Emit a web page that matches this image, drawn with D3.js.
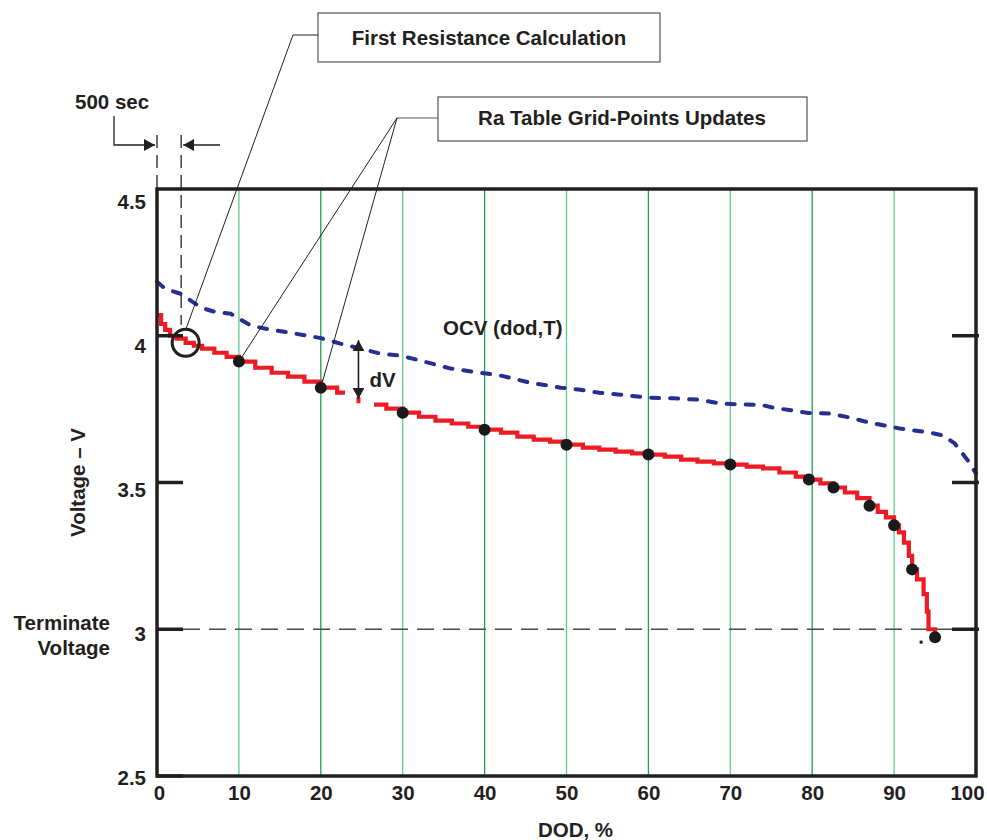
<!DOCTYPE html>
<html>
<head>
<meta charset="utf-8">
<script src="https://cdn.jsdelivr.net/npm/d3@7"></script>
<style>
  body { margin: 0; background: #fff; }
  text { font-family: "Liberation Sans", Arial, sans-serif; font-weight: bold; fill: #231f20; }
</style>
</head>
<body>
<div id="chart"></div>
<script>
// chart values
var xTicks = [0, 10, 20, 30, 40, 50, 60, 70, 80, 90, 100];
var yTicks = [2.5, 3, 3.5, 4, 4.5];
var gridDod = [10, 20, 30, 40, 50, 60, 70, 80, 90];
var borderTicks = [2.5, 3, 3.5, 4];
var rightTicks = [3, 3.5, 4];

// measured battery voltage (red staircase), null = gap
var redDod = [0, 0.5, 1, 1.6, 2.4, 3.5, 4.5, 5.5, 7, 8.5, 10, 12, 14, 16, 18, 20, 22, 22.7, 24,
  26.5, 28, 30, 32, 34, 36, 38, 40, 42, 44, 46, 48, 50, 52, 54, 56, 58, 60, 62, 64, 66, 68, 70,
  72, 74, 76, 78, 79.6, 81, 82.6, 84, 85.5, 87, 88, 89, 90, 90.6, 91.2, 91.8, 92.2, 92.8, 93.6,
  94, 94.2, 95];
var redV = [4.07, 4.04, 4.02, 4.0, 3.99, 3.976, 3.966, 3.956, 3.942, 3.928, 3.912, 3.891, 3.874,
  3.861, 3.844, 3.823, 3.806, 3.799, null,
  3.765, 3.752, 3.738, 3.724, 3.711, 3.701, 3.69, 3.68, 3.67, 3.656, 3.646, 3.639, 3.629, 3.619,
  3.612, 3.605, 3.599, 3.595, 3.588, 3.578, 3.571, 3.565, 3.561, 3.554, 3.548, 3.534, 3.52, 3.51,
  3.497, 3.483, 3.466, 3.447, 3.421, 3.4, 3.381, 3.354, 3.33, 3.295, 3.25, 3.204, 3.17, 3.12,
  3.06, 3.0, 2.973];

// open circuit voltage OCV(dod,T), blue dashed
var ocvDod = [0, 1, 2.9, 5.4, 7, 9, 11.5, 14, 16.3, 20, 22.4, 25, 27.3, 29.8, 32.2, 35.9, 39.5,
  42, 45.6, 49.3, 51.7, 54, 56.6, 60, 63, 66.3, 68.8, 71, 73.7, 75.2, 77.7, 79.5, 82.2, 84.6,
  87, 90.7, 94.4, 96, 97.4, 99, 100];
var ocvV = [4.184, 4.16, 4.143, 4.095, 4.082, 4.075, 4.034, 4.02, 4.01, 3.992, 3.973, 3.955,
  3.939, 3.932, 3.915, 3.888, 3.874, 3.864, 3.84, 3.823, 3.816, 3.806, 3.799, 3.789, 3.787,
  3.782, 3.769, 3.766, 3.765, 3.755, 3.745, 3.737, 3.735, 3.721, 3.704, 3.684, 3.67, 3.66,
  3.633, 3.575, 3.531];

// Ra table grid-point updates (black dots)
var dotDod = [10, 20, 30, 40, 50, 60, 70, 79.6, 82.6, 87, 90, 92.2, 95];
var dotV = [3.912, 3.823, 3.738, 3.68, 3.629, 3.595, 3.561, 3.51, 3.483, 3.421, 3.354, 3.204, 2.973];

var terminateV = 3;
var firstCalc = { dod: 3.5, v: 3.976 };
var secDod = 2.95;          // 500 sec mark
var dvDod = 24.6;
var dvTop = 3.985, dvBottom = 3.785;

var svgWidth = 987;
var svgHeight = 840;
var margin = { top: 189, right: 11, bottom: 64, left: 157 };
var width = svgWidth - margin.left - margin.right;
var height = svgHeight - margin.top - margin.bottom;

var svg = d3.select("#chart")
  .append("svg")
  .attr("width", svgWidth)
  .attr("height", svgHeight);

var defs = svg.append("defs");
defs.append("marker")
  .attr("id", "arrow")
  .attr("viewBox", "0 0 10 10")
  .attr("refX", 10).attr("refY", 5)
  .attr("markerWidth", 11).attr("markerHeight", 12)
  .attr("markerUnits", "userSpaceOnUse")
  .attr("orient", "auto-start-reverse")
  .attr("preserveAspectRatio", "none")
  .append("path")
  .attr("d", "M0,0L10,5L0,10Z")
  .attr("fill", "#231f20");

var chartGroup = svg.append("g")
  .attr("transform", `translate(${margin.left}, ${margin.top})`);

var xScale = d3.scaleLinear().domain([0, 100]).range([0, width]);
var yScale = d3.scaleLinear().domain([2.5, 4.5]).range([height, 0]);
// tick labels sit a bit lower than their ticks in the original
var yLabelScale = d3.scaleLinear().domain([2.5, 4.5]).range([height + 8, 19]);

// green grid lines
chartGroup.selectAll(".grid")
  .data(gridDod)
  .enter()
  .append("line")
  .attr("x1", d => xScale(d)).attr("x2", d => xScale(d))
  .attr("y1", 0).attr("y2", height)
  .attr("stroke", (d, i) => i % 2 ? "#1f9d55" : "#5ccb8c")
  .attr("stroke-width", 1.3);

// terminate voltage dashed line
chartGroup.append("line")
  .attr("x1", 26).attr("x2", width - 24)
  .attr("y1", yScale(terminateV)).attr("y2", yScale(terminateV))
  .attr("stroke", "#4a4a4a")
  .attr("stroke-width", 1.5)
  .attr("stroke-dasharray", "17,9");

// OCV curve
var ocvLine = d3.line()
  .x((d, i) => xScale(ocvDod[i]))
  .y(d => yScale(d));

chartGroup.append("path")
  .datum(ocvV)
  .attr("d", ocvLine)
  .attr("fill", "none")
  .attr("stroke", "#262f8f")
  .attr("stroke-width", 4)
  .attr("stroke-linecap", "round")
  .attr("stroke-dasharray", "8,11");

// measured voltage, stepped
var redLine = d3.line()
  .defined(d => d !== null)
  .x((d, i) => xScale(redDod[i]))
  .y(d => yScale(d))
  .curve(d3.curveStepAfter);

chartGroup.append("path")
  .datum(redV)
  .attr("d", redLine)
  .attr("fill", "none")
  .attr("stroke", "#ed1c24")
  .attr("stroke-width", 4.2);

// little red bit under the dV arrow
chartGroup.append("line")
  .attr("x1", xScale(dvDod)).attr("x2", xScale(dvDod))
  .attr("y1", yScale(3.792)).attr("y2", yScale(3.77))
  .attr("stroke", "#ed1c24")
  .attr("stroke-width", 4);

// dV arrow
chartGroup.append("line")
  .attr("x1", xScale(dvDod)).attr("x2", xScale(dvDod))
  .attr("y1", yScale(dvTop)).attr("y2", yScale(dvBottom))
  .attr("stroke", "#231f20")
  .attr("stroke-width", 1.6)
  .attr("marker-start", "url(#arrow)")
  .attr("marker-end", "url(#arrow)");

chartGroup.append("text")
  .attr("x", xScale(dvDod) + 11)
  .attr("y", yScale(3.85) + 7)
  .attr("font-size", 20.5)
  .text("dV");

// dots
chartGroup.selectAll(".dot")
  .data(dotV)
  .enter()
  .append("circle")
  .attr("cx", (d, i) => xScale(dotDod[i]))
  .attr("cy", d => yScale(d))
  .attr("r", 6)
  .attr("fill", "#1a1a1a");

chartGroup.append("rect")
  .attr("x", xScale(93.3) - 1.5).attr("y", yScale(2.956) - 1.5)
  .attr("width", 3).attr("height", 3)
  .attr("fill", "#1a1a1a");

// first resistance circle
chartGroup.append("circle")
  .attr("cx", xScale(firstCalc.dod))
  .attr("cy", yScale(firstCalc.v))
  .attr("r", 13.5)
  .attr("fill", "none")
  .attr("stroke", "#231f20")
  .attr("stroke-width", 3);

// frame
chartGroup.append("rect")
  .attr("width", width).attr("height", height)
  .attr("fill", "none")
  .attr("stroke", "#231f20")
  .attr("stroke-width", 3.5);

chartGroup.selectAll(".ltick")
  .data(borderTicks)
  .enter()
  .append("line")
  .attr("x1", 0).attr("x2", 26)
  .attr("y1", d => yScale(d)).attr("y2", d => yScale(d))
  .attr("stroke", "#231f20")
  .attr("stroke-width", 3.5);

chartGroup.selectAll(".rtick")
  .data(rightTicks)
  .enter()
  .append("line")
  .attr("x1", width - 24).attr("x2", width + 3)
  .attr("y1", d => yScale(d)).attr("y2", d => yScale(d))
  .attr("stroke", "#231f20")
  .attr("stroke-width", 3.5);

// axes (labels only, frame drawn above)
var bottomAxis = d3.axisBottom(xScale).tickValues(xTicks).tickSize(0).tickPadding(9);
var leftAxis = d3.axisLeft(yLabelScale).tickValues(yTicks).tickSize(0).tickPadding(11)
  .tickFormat(d3.format("~g"));

var xAxisG = chartGroup.append("g")
  .attr("transform", `translate(0, ${height})`)
  .call(bottomAxis);
var yAxisG = chartGroup.append("g").call(leftAxis);

[xAxisG, yAxisG].forEach(function (g) {
  g.select(".domain").remove();
  g.selectAll("text")
    .attr("font-size", 20.5)
    .attr("font-family", null)
    .attr("fill", "#231f20");
});
xAxisG.selectAll("text").attr("dy", "0.71em");
yAxisG.selectAll("text").attr("dy", 0);
xAxisG.selectAll(".tick").filter(d => d === 100).select("text").attr("dx", -9);
xAxisG.selectAll(".tick").filter(d => d === 0).select("text").attr("dx", 2);

// axis titles
svg.append("text")
  .attr("x", margin.left + xScale(50) + 9)
  .attr("y", 837)
  .attr("text-anchor", "middle")
  .attr("font-size", 20.5)
  .text("DOD, %");

svg.append("text")
  .attr("transform", `translate(85, ${margin.top + yScale(3.5)}) rotate(-90)`)
  .attr("text-anchor", "middle")
  .attr("font-size", 20.5)
  .text("Voltage \u2013 V");

svg.append("text")
  .attr("x", 110).attr("y", 630)
  .attr("text-anchor", "end")
  .attr("font-size", 20.5)
  .text("Terminate");
svg.append("text")
  .attr("x", 110).attr("y", 655)
  .attr("text-anchor", "end")
  .attr("font-size", 20.5)
  .text("Voltage");

chartGroup.append("text")
  .attr("x", 286).attr("y", yScale(3.85) - 45)
  .attr("font-size", 20.5)
  .text("OCV (dod,T)");

// 500 sec marker
var x0 = margin.left + xScale(0);
var x1 = margin.left + xScale(secDod);
svg.append("line")
  .attr("x1", x0).attr("x2", x0).attr("y1", 135).attr("y2", margin.top)
  .attr("stroke", "#231f20").attr("stroke-width", 1.3).attr("stroke-dasharray", "13,7");
svg.append("line")
  .attr("x1", x1).attr("x2", x1).attr("y1", 135).attr("y2", margin.top + yScale(firstCalc.v) - 18)
  .attr("stroke", "#231f20").attr("stroke-width", 1.3).attr("stroke-dasharray", "13,7");
svg.append("path")
  .attr("d", `M114,116V145H${x0 - 2}`)
  .attr("fill", "none")
  .attr("stroke", "#231f20").attr("stroke-width", 1.3)
  .attr("marker-end", "url(#arrow)");
svg.append("line")
  .attr("x1", 220).attr("x2", x1 + 2).attr("y1", 145).attr("y2", 145)
  .attr("stroke", "#231f20").attr("stroke-width", 1.3)
  .attr("marker-end", "url(#arrow)");
svg.append("text")
  .attr("x", 75).attr("y", 109)
  .attr("font-size", 20.5)
  .text("500 sec");

// callout boxes
svg.append("rect")
  .attr("x", 318).attr("y", 13).attr("width", 342).attr("height", 49)
  .attr("fill", "#fff").attr("stroke", "#555").attr("stroke-width", 1.2);
svg.append("text")
  .attr("x", 489).attr("y", 45)
  .attr("text-anchor", "middle")
  .attr("font-size", 20.5)
  .text("First Resistance Calculation");
svg.append("polyline")
  .attr("points", [[318, 35], [293, 35],
    [margin.left + xScale(firstCalc.dod), margin.top + yScale(firstCalc.v) - 13]].join(" "))
  .attr("fill", "none").attr("stroke", "#231f20").attr("stroke-width", 1);

svg.append("rect")
  .attr("x", 438).attr("y", 97).attr("width", 369).attr("height", 44)
  .attr("fill", "#fff").attr("stroke", "#555").attr("stroke-width", 1.2);
svg.append("text")
  .attr("x", 622).attr("y", 125)
  .attr("text-anchor", "middle")
  .attr("font-size", 20.5)
  .text("Ra Table Grid-Points Updates");
svg.append("line")
  .attr("x1", 438).attr("x2", 397).attr("y1", 118).attr("y2", 118)
  .attr("stroke", "#555").attr("stroke-width", 1.2);
[0, 1].forEach(function (i) {
  svg.append("line")
    .attr("x1", 397).attr("y1", 118)
    .attr("x2", margin.left + xScale(dotDod[i]))
    .attr("y2", margin.top + yScale(dotV[i]))
    .attr("stroke", "#231f20").attr("stroke-width", 1);
});
</script>
</body>
</html>
